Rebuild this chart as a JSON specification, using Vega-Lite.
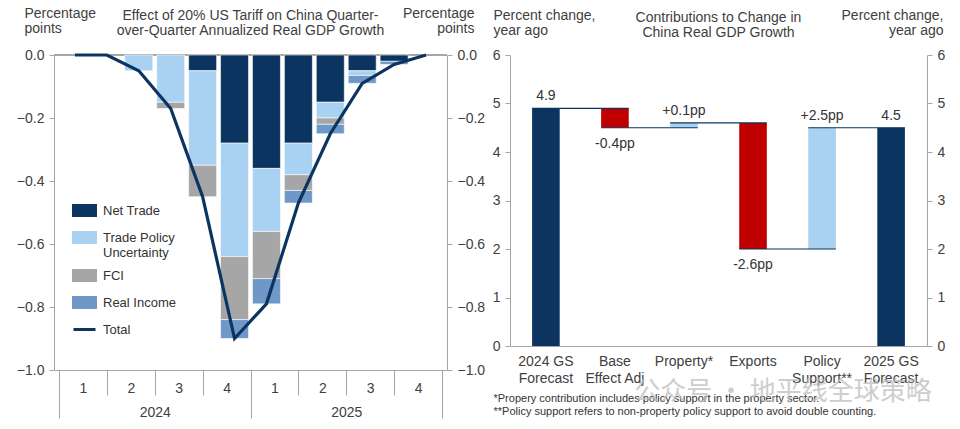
{
  "$schema": "https://vega.github.io/schema/vega-lite/v6.json",
  "background": "white",
  "padding": {"left": 16, "top": 6, "right": 0, "bottom": 0},
  "spacing": 7,
  "config": {
    "font": "Liberation Sans",
    "view": {"stroke": null},
    "axis": {"labelFont": "Liberation Sans", "labelFontSize": 14, "labelColor": "#404040", "domainColor": "#a6a6a6", "tickColor": "#a6a6a6", "grid": false, "titleColor": "#404040", "titleFontWeight": "normal", "titleFontSize": 14, "titleFont": "Liberation Sans"},
    "title": {"font": "Liberation Sans", "fontSize": 14, "fontWeight": "normal", "color": "#404040", "lineHeight": 15, "anchor": "middle", "frame": "group", "dy": 36}
  },
  "resolve": {"scale": {"color": "independent"}},
  "datasets": {
    "parts": [
      {"idx": 3, "comp": "Trade Policy Uncertainty", "value": -0.05},
      {"idx": 4, "comp": "Trade Policy Uncertainty", "value": -0.15},
      {"idx": 4, "comp": "FCI", "value": -0.02},
      {"idx": 5, "comp": "Net Trade", "value": -0.05},
      {"idx": 5, "comp": "Trade Policy Uncertainty", "value": -0.30},
      {"idx": 5, "comp": "FCI", "value": -0.10},
      {"idx": 6, "comp": "Net Trade", "value": -0.28},
      {"idx": 6, "comp": "Trade Policy Uncertainty", "value": -0.36},
      {"idx": 6, "comp": "FCI", "value": -0.20},
      {"idx": 6, "comp": "Real Income", "value": -0.06},
      {"idx": 7, "comp": "Net Trade", "value": -0.36},
      {"idx": 7, "comp": "Trade Policy Uncertainty", "value": -0.20},
      {"idx": 7, "comp": "FCI", "value": -0.15},
      {"idx": 7, "comp": "Real Income", "value": -0.08},
      {"idx": 8, "comp": "Net Trade", "value": -0.28},
      {"idx": 8, "comp": "Trade Policy Uncertainty", "value": -0.10},
      {"idx": 8, "comp": "FCI", "value": -0.05},
      {"idx": 8, "comp": "Real Income", "value": -0.04},
      {"idx": 9, "comp": "Net Trade", "value": -0.15},
      {"idx": 9, "comp": "Trade Policy Uncertainty", "value": -0.05},
      {"idx": 9, "comp": "FCI", "value": -0.02},
      {"idx": 9, "comp": "Real Income", "value": -0.03},
      {"idx": 10, "comp": "Net Trade", "value": -0.05},
      {"idx": 10, "comp": "Trade Policy Uncertainty", "value": -0.015},
      {"idx": 10, "comp": "Real Income", "value": -0.025},
      {"idx": 11, "comp": "Net Trade", "value": -0.02},
      {"idx": 11, "comp": "Real Income", "value": -0.01}
    ],
    "totals": [
      {"idx": 1, "total": 0},
      {"idx": 2, "total": 0},
      {"idx": 3, "total": -0.05},
      {"idx": 4, "total": -0.17},
      {"idx": 5, "total": -0.45},
      {"idx": 6, "total": -0.90},
      {"idx": 7, "total": -0.79},
      {"idx": 8, "total": -0.47},
      {"idx": 9, "total": -0.25},
      {"idx": 10, "total": -0.09},
      {"idx": 11, "total": -0.03},
      {"idx": 12, "total": 0}
    ],
    "waterfall": [
      {"cat": "2024 GS|Forecast", "next": "Base|Effect Adj", "start": 0, "end": 4.9, "kind": "total", "label": "4.9", "side": "above"},
      {"cat": "Base|Effect Adj", "next": "Property*", "start": 4.9, "end": 4.5, "kind": "decrease", "label": "-0.4pp", "side": "below"},
      {"cat": "Property*", "next": "Exports", "start": 4.5, "end": 4.6, "kind": "increase", "label": "+0.1pp", "side": "above"},
      {"cat": "Exports", "next": "Policy|Support**", "start": 4.6, "end": 2.0, "kind": "decrease", "label": "-2.6pp", "side": "below"},
      {"cat": "Policy|Support**", "next": "2025 GS|Forecast", "start": 2.0, "end": 4.5, "kind": "increase", "label": "+2.5pp", "side": "above"},
      {"cat": "2025 GS|Forecast", "next": null, "start": 0, "end": 4.5, "kind": "total", "label": "4.5", "side": "above"}
    ]
  },
  "hconcat": [
    {
      "width": 393,
      "height": 315,
      "title": {"text": ["Effect of 20% US Tariff on China Quarter-", "over-Quarter Annualized Real GDP Growth"]},
      "layer": [
        {
          "data": {"name": "totals"},
          "mark": {"type": "rule", "color": "#a6a6a6"},
          "encoding": {"y": {"datum": 0, "type": "quantitative", "scale": {"domain": [-1, 0]}, "axis": null}}
        },
        {
          "data": {"name": "parts"},
          "transform": [{"calculate": "indexof(['Net Trade', 'Trade Policy Uncertainty', 'FCI', 'Real Income'], datum.comp)", "as": "stackRank"}],
          "mark": {"type": "bar", "width": 28, "stroke": "white", "strokeWidth": 0.6},
          "encoding": {
            "x": {"field": "idx", "type": "quantitative", "scale": {"domain": [0.5, 12.5]},
              "axis": {"orient": "bottom", "offset": 0, "values": [0.5, 1.25, 2, 2.75, 3.5, 4.25, 5, 5.75, 6.5, 7.25, 8, 8.75, 9.5, 10.25, 11, 11.75, 12.5],
                "tickSize": 25, "tickOpacity": {"condition": {"test": "(datum.value - 0.5) % 1.5 != 0", "value": 0}, "value": 1},
                "labelExpr": "(datum.value - 0.5) % 1.5 == 0 ? '' : '' + (floor((datum.value - 0.5) / 1.5) % 4 + 1)",
                "labelPadding": -14, "labelFlush": false, "labelOverlap": false, "title": null}},
            "y": {"field": "value", "type": "quantitative", "stack": "zero", "scale": {"domain": [-1, 0]},
              "axis": {"orient": "left", "values": [-1, -0.8, -0.6, -0.4, -0.2, 0], "format": ".1f", "tickSize": 5, "labelPadding": 5,
                "title": ["Percentage", "points"], "titleAngle": 0, "titleAlign": "left", "titleBaseline": "alphabetic", "titleX": -30, "titleY": -38, "titleLineHeight": 15}},
            "order": {"field": "stackRank", "type": "quantitative", "sort": "ascending"},
            "color": {"field": "comp", "type": "nominal",
              "scale": {"domain": ["Net Trade", "Trade Policy Uncertainty", "FCI", "Real Income", "Total"], "range": ["#0b3560", "#a9d1f1", "#a6a6a6", "#6f98c9", "#0b3560"]},
              "legend": {"orient": "none", "legendX": 18, "legendY": 143, "title": null, "labelFontSize": 13, "labelColor": "#333333", "labelFont": "Liberation Sans", "symbolSize": 484, "labelOffset": 6, "rowPadding": 3,
                "symbolType": "M-1,-0.45H1V0.45H-1Z",
                "labelExpr": "datum.value == 'Trade Policy Uncertainty' ? ['Trade  Policy', 'Uncertainty'] : datum.label",
                "encode": {"symbols": {"update": {
                  "shape": {"signal": "datum.value == 'Total' ? 'M-1,0H1' : 'M-1,-0.45H1V0.45H-1Z'"},
                  "fill": {"signal": "datum.value == 'Net Trade' ? '#0b3560' : datum.value == 'Trade Policy Uncertainty' ? '#a9d1f1' : datum.value == 'FCI' ? '#a6a6a6' : datum.value == 'Real Income' ? '#6f98c9' : 'transparent'"},
                  "stroke": {"signal": "datum.value == 'Total' ? '#0b3560' : 'transparent'"},
                  "strokeWidth": {"value": 3},
                  "opacity": {"value": 1}
                }}}}}
          }
        },
        {
          "data": {"name": "totals"},
          "mark": {"type": "line", "strokeWidth": 3.2},
          "encoding": {
            "x": {"field": "idx", "type": "quantitative", "scale": {"domain": [0.5, 12.5]},
              "axis": {"orient": "bottom", "offset": 0, "values": [0.5, 3.5, 6.5, 9.5, 12.5], "tickSize": 48,
                "tickOpacity": {"condition": {"test": "datum.value == 3.5 || datum.value == 9.5", "value": 0}, "value": 1},
                "labelExpr": "datum.value == 3.5 ? '2024' : datum.value == 9.5 ? '2025' : ''",
                "labelPadding": -13, "domain": false, "labelFlush": false, "labelOverlap": false, "title": null}},
            "y": {"field": "total", "type": "quantitative", "scale": {"domain": [-1, 0]},
              "axis": {"orient": "right", "values": [-1, -0.8, -0.6, -0.4, -0.2, 0], "format": ".1f", "tickSize": 5, "labelPadding": 5,
                "title": ["Percentage", "points"], "titleAngle": 0, "titleAlign": "right", "titleBaseline": "alphabetic", "titleX": 27, "titleY": -38, "titleLineHeight": 15}},
            "color": {"datum": "Total", "type": "nominal",
              "legend": {"orient": "none", "legendX": 18, "legendY": 143, "title": null, "labelFontSize": 13, "labelColor": "#333333", "labelFont": "Liberation Sans", "symbolSize": 484, "labelOffset": 6, "rowPadding": 3,
                "symbolType": "M-1,-0.45H1V0.45H-1Z",
                "labelExpr": "datum.value == 'Trade Policy Uncertainty' ? ['Trade  Policy', 'Uncertainty'] : datum.label",
                "encode": {"symbols": {"update": {
                  "shape": {"signal": "datum.value == 'Total' ? 'M-1,0H1' : 'M-1,-0.45H1V0.45H-1Z'"},
                  "fill": {"signal": "datum.value == 'Net Trade' ? '#0b3560' : datum.value == 'Trade Policy Uncertainty' ? '#a9d1f1' : datum.value == 'FCI' ? '#a6a6a6' : datum.value == 'Real Income' ? '#6f98c9' : 'transparent'"},
                  "stroke": {"signal": "datum.value == 'Total' ? '#0b3560' : 'transparent'"},
                  "strokeWidth": {"value": 3},
                  "opacity": {"value": 1}
                }}}}}
          }
        }
      ],
      "resolve": {"axis": {"x": "independent", "y": "independent"}}
    },
    {
      "width": 417,
      "height": 291,
      "title": {"text": ["Contributions to Change in", "China Real GDP Growth"]},
      "data": {"name": "waterfall"},
      "layer": [
        {
          "mark": {"type": "bar"},
          "encoding": {
            "x": {"field": "cat", "type": "nominal",
              "scale": {"domain": ["2024 GS|Forecast", "Base|Effect Adj", "Property*", "Exports", "Policy|Support**", "2025 GS|Forecast"], "paddingInner": 0.6, "paddingOuter": 0.32},
              "axis": {"labelAngle": 0, "ticks": false, "labelPadding": 8, "labelLineHeight": 17, "labelExpr": "split(datum.value, '|')",
                "title": ["*Propery contribution includes policy support in the property sector.", "**Policy  support refers to non-property policy support to avoid double counting."],
                "titleFontSize": 11, "titleColor": "#333333", "titleAlign": "left", "titleAnchor": "start", "titleBaseline": "alphabetic", "titleX": -17, "titleY": 55, "titleLineHeight": 13}},
            "y": {"field": "start", "type": "quantitative", "scale": {"domain": [0, 6]},
              "axis": {"orient": "left", "values": [0, 1, 2, 3, 4, 5, 6], "tickSize": 5, "labelPadding": 5,
                "title": ["Percent change,", "year ago"], "titleAngle": 0, "titleAlign": "left", "titleBaseline": "alphabetic", "titleX": -17, "titleY": -36, "titleLineHeight": 15}},
            "y2": {"field": "end"},
            "color": {"field": "kind", "type": "nominal", "scale": {"domain": ["total", "decrease", "increase"], "range": ["#0b3560", "#c00000", "#a9d1f1"]}, "legend": null}
          }
        },
        {
          "transform": [{"filter": "datum.next != null"}],
          "mark": {"type": "rule", "color": "#0b3560", "strokeWidth": 1.2},
          "encoding": {
            "x": {"field": "cat", "type": "nominal", "bandPosition": 0},
            "x2": {"field": "next", "bandPosition": 1},
            "y": {"field": "end", "type": "quantitative", "scale": {"domain": [0, 6]},
              "axis": {"orient": "right", "values": [0, 1, 2, 3, 4, 5, 6], "tickSize": 5, "labelPadding": 5,
                "title": ["Percent change,", "year ago"], "titleAngle": 0, "titleAlign": "right", "titleBaseline": "alphabetic", "titleX": 16, "titleY": -36, "titleLineHeight": 15}}
          }
        },
        {
          "transform": [{"filter": "datum.side == 'above'"}],
          "mark": {"type": "text", "baseline": "alphabetic", "dy": -8, "fontSize": 14, "color": "#333333"},
          "encoding": {
            "x": {"field": "cat", "type": "nominal"},
            "y": {"field": "end", "type": "quantitative", "scale": {"domain": [0, 6]}, "axis": null},
            "text": {"field": "label"}
          }
        },
        {
          "transform": [{"filter": "datum.side == 'below'"}],
          "mark": {"type": "text", "baseline": "top", "dy": 9, "fontSize": 14, "color": "#333333"},
          "encoding": {
            "x": {"field": "cat", "type": "nominal"},
            "y": {"field": "end", "type": "quantitative", "scale": {"domain": [0, 6]}, "axis": null},
            "text": {"field": "label"}
          }
        },
        {
          "data": {"values": [{"mark": "watermark"}]},
          "mark": {"type": "text", "text": "公众号 · 地平线全球策略", "font": "Noto Sans CJK SC", "fontSize": 26, "color": "#bdbdbd", "opacity": 0.75, "dx": 30},
          "encoding": {
            "x": {"datum": "Exports", "type": "nominal"},
            "y": {"datum": -0.95, "type": "quantitative", "scale": {"domain": [0, 6]}, "axis": null}
          }
        }
      ],
      "resolve": {"axis": {"y": "independent"}}
    }
  ]
}
